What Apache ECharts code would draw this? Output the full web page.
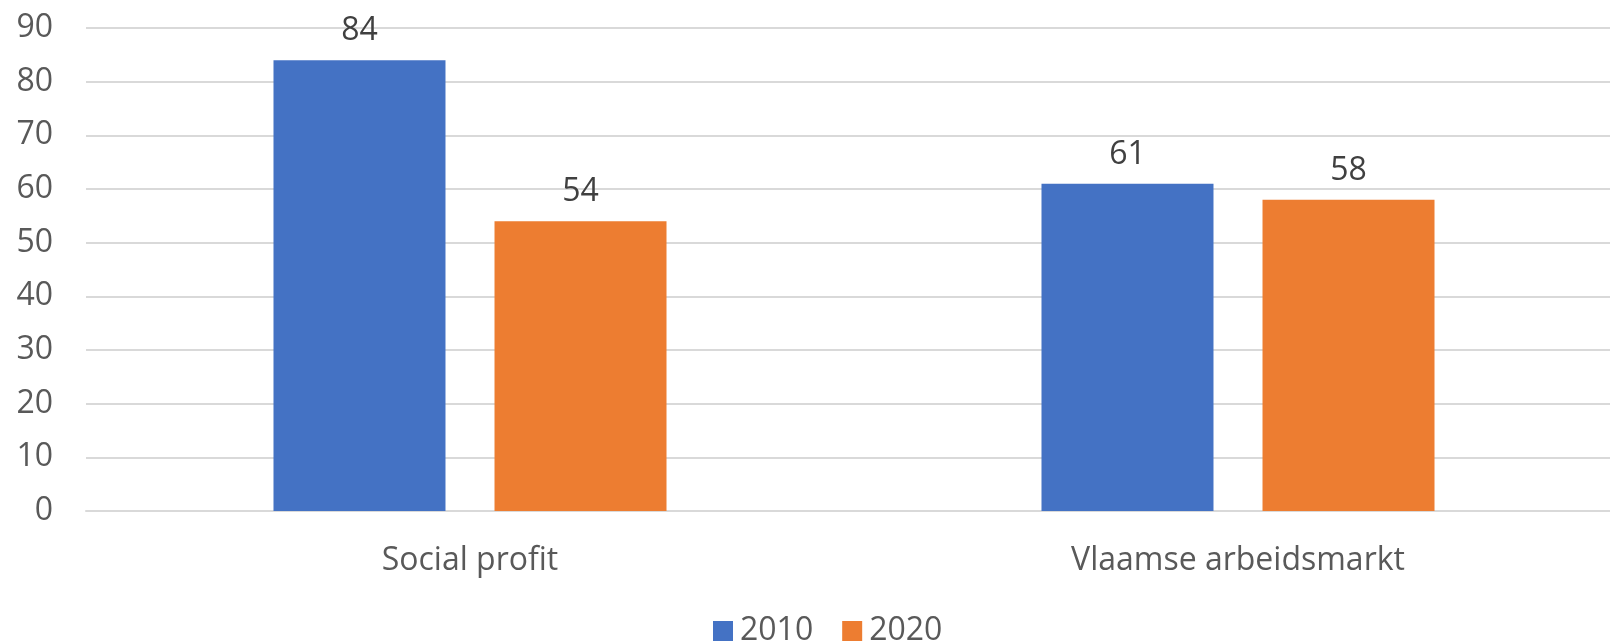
<!DOCTYPE html>
<html>
<head>
<meta charset="utf-8">
<script src="https://cdn.jsdelivr.net/npm/echarts@6/dist/echarts.min.js"></script>
<style>
  html, body { margin: 0; padding: 0; background: #fff; overflow: hidden; }
  /* plot area runs past the right edge in the original, so the div is a bit wider than the window */
  #main { width: 1622px; height: 642px; }
</style>
</head>
<body>
<div id="main"></div>
<script>
var categories = ['Social profit', 'Vlaamse arbeidsmarkt'];
var values2010 = [84, 61];
var values2020 = [54, 58];
var yTicks = { min: 0, max: 90, step: 10 };

var FONT = '"Open Sans", "Noto Sans", sans-serif';

var myChart = echarts.init(document.getElementById('main'));

var labelStyle = {
    show: true,
    position: 'top',
    distance: 13,
    color: '#404040',
    fontSize: 32,
    fontFamily: FONT
};

var option = {
    animation: false,
    grid: {
        left: 86,
        right: 0,
        top: 28,
        bottom: 131
    },
    legend: {
        data: ['2010', '2020'],
        left: 708,
        top: 610,
        icon: 'rect',
        itemWidth: 20,
        itemHeight: 20,
        itemGap: 29,
        textStyle: { color: '#595959', fontSize: 32, fontFamily: FONT, padding: [0, 0, 0, 2] }
    },
    xAxis: {
        type: 'category',
        data: categories,
        axisLine: { show: true, lineStyle: { color: '#D9D9D9', width: 2 } },
        axisTick: { show: false },
        axisLabel: { color: '#595959', fontSize: 32, fontFamily: FONT, margin: 34 }
    },
    yAxis: {
        type: 'value',
        min: yTicks.min,
        max: yTicks.max,
        interval: yTicks.step,
        axisLine: { show: false },
        axisTick: { show: false },
        axisLabel: { color: '#595959', fontSize: 32, fontFamily: FONT, margin: 33 },
        splitLine: { lineStyle: { color: '#D9D9D9', width: 2 } }
    },
    series: [
        {
            name: '2010',
            type: 'bar',
            data: values2010,
            barWidth: 172,
            barGap: '28.5%',
            itemStyle: { color: '#4472C4' },
            label: labelStyle
        },
        {
            name: '2020',
            type: 'bar',
            data: values2020,
            barWidth: 172,
            itemStyle: { color: '#ED7D31' },
            label: labelStyle
        }
    ]
};
myChart.setOption(option);
</script>
</body>
</html>
